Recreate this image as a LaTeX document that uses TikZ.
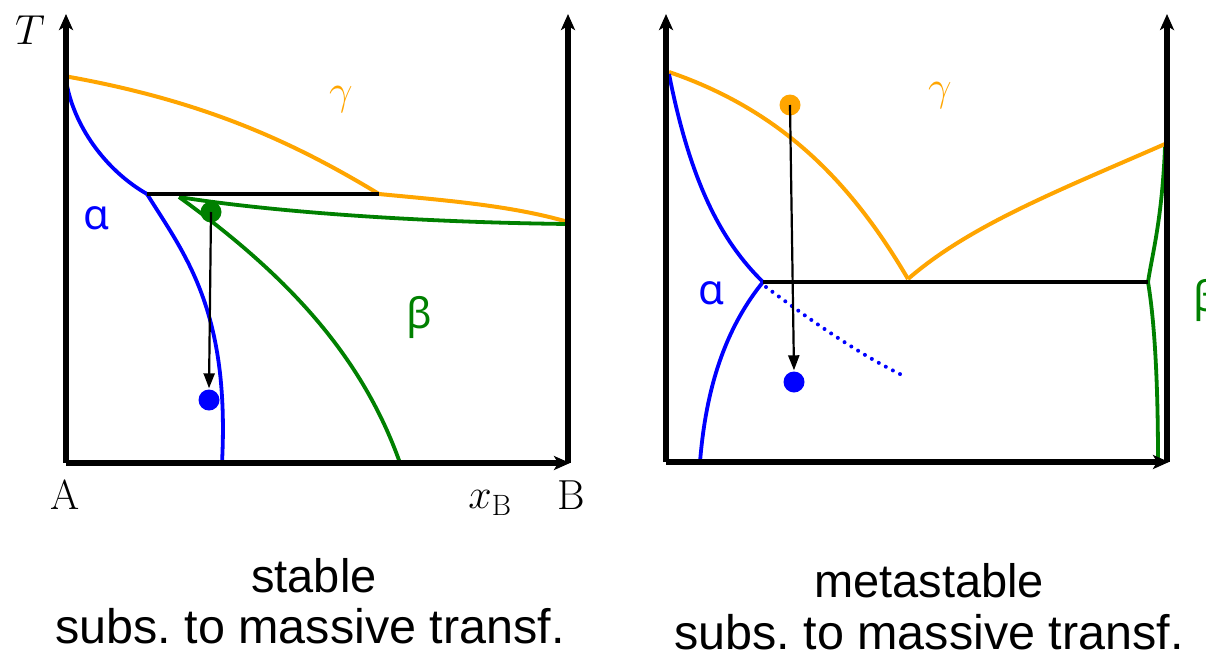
\RequirePackage{fix-cm}
\documentclass[tikz,border=0pt]{standalone}
\usepackage{fontspec}
\setmainfont{Latin Modern Roman}
\newfontfamily\labfont{Liberation Sans}
\newfontfamily\greekfont{Noto Sans}
\usetikzlibrary{arrows.meta}
\definecolor{cor}{RGB}{255,165,0}
\definecolor{cbl}{RGB}{0,0,255}
\definecolor{cgr}{RGB}{0,128,0}
\tikzset{
  axis/.style={line width=5.5pt,-{Stealth[length=16pt,width=14pt,inset=4pt]}},
  curveO/.style={cor,line width=4pt},
  curveB/.style={cbl,line width=3.8pt},
  curveG/.style={cgr,line width=3.8pt},
  tie/.style={black,line width=4.5pt},
  dotO/.style={circle,fill=cor,inner sep=0pt,minimum size=21pt},
  dotB/.style={circle,fill=cbl,inner sep=0pt,minimum size=21pt},
  dotG/.style={circle,fill=cgr,inner sep=0pt,minimum size=21pt},
  arrowpath/.style={black,line width=2.2pt,-{Triangle[length=15pt,width=11pt]},shorten >=1pt},
  captxt/.style={font=\labfont\fontsize{47}{50}\selectfont,anchor=base,inner sep=0pt},
  captxtb/.style={font=\labfont\fontsize{48.5}{50}\selectfont,anchor=base,inner sep=0pt},
  glab/.style={font=\greekfont\fontsize{42}{44}\selectfont},
  mlab/.style={font=\fontsize{42}{44}\selectfont},
}
\frenchspacing
\begin{document}
\begin{tikzpicture}[x=1pt,y=-1pt]
\useasboundingbox (0,0) rectangle (1206,656);
% ---------- left diagram ----------
\coordinate (LO) at (66,463);
\coordinate (LT) at (66,14);
\coordinate (RB) at (568,463);
\coordinate (RT) at (568,14);
\draw[curveO] (64,76) .. controls (200,100) and (290,140) .. (379,194);
\draw[curveO] (379,194) .. controls (440,200) and (510,205) .. (568,222);
\draw[curveB] (66,80) .. controls (73,125) and (105,170) .. (147,194);
\draw[curveB] (147,194) .. controls (185,255) and (230,310) .. (222,463);
\draw[curveG] (179,197) .. controls (260,210) and (400,222) .. (568,224);
\draw[curveG] (179,197) .. controls (280,270) and (360,350) .. (400,463);
\draw[tie] (147,194) -- (379,194);
\draw[axis] (LO) -- (LT);
\draw[axis] (RB) -- (RT);
\draw[axis] (LO) -- ([xshift=2pt]RB);
\node[dotG] (g1) at (211,212) {};
\node[dotB] (b1) at (209,400) {};
\draw[arrowpath] (g1.center) -- (b1.north);
\node[glab,text=cbl] (al1) at (97,218) {α};
\node[mlab,text=cor] (ga1) at (341,100) {$\gamma$};
\node[glab,text=cgr] (be1) at (419,317) {β};
\node[mlab] (T) at (30,30) {$T$};
\node[mlab] (A) at (65,495) {A};
\node[mlab] (xb) at (490,503) {$x_{\mathrm{B}}$};
\node[mlab] (B) at (571,495) {B};
\node[captxt] (c1) at (314,592) {stable};
\node[captxtb] (c2) at (310,643) {subs. to massive transf.};
% ---------- right diagram ----------
\coordinate (LO2) at (666,462);
\coordinate (LT2) at (666,14);
\coordinate (RB2) at (1167,462);
\coordinate (RT2) at (1167,14);
\draw[curveO] (669,72) .. controls (780,110) and (850,180) .. (908,279);
\draw[curveO] (908,279) .. controls (970,225) and (1060,190) .. (1165,144);
\draw[curveB] (669,74) .. controls (690,180) and (720,240) .. (763,282);
\draw[curveB] (763,282) .. controls (720,335) and (705,400) .. (700,462);
\draw[cbl,line width=4pt,dash pattern=on 0pt off 8pt,line cap=round] (766,287) .. controls (810,320) and (860,355) .. (904,376);
\draw[curveG] (1165,147) .. controls (1162,220) and (1152,255) .. (1148,282);
\draw[curveG] (1148,282) .. controls (1156,330) and (1158,400) .. (1158,462);
\draw[tie] (763,282) -- (1148,282);
\draw[axis] (LO2) -- (LT2);
\draw[axis] (RB2) -- (RT2);
\draw[axis] (LO2) -- ([xshift=2pt]RB2);
\node[dotO] (o2) at (790,105) {};
\node[dotB] (b2) at (794,382) {};
\draw[arrowpath] (o2.center) -- (b2.north);
\node[glab,text=cbl] (al2) at (712,293) {α};
\node[mlab,text=cor] (ga2) at (940,96) {$\gamma$};
\node[glab,text=cgr,anchor=west] (be2) at (1190,300) {β};
\node[captxt] (c3) at (929,597) {metastable};
\node[captxtb] (c4) at (929,649) {subs. to massive transf.};
\end{tikzpicture}
\end{document}
